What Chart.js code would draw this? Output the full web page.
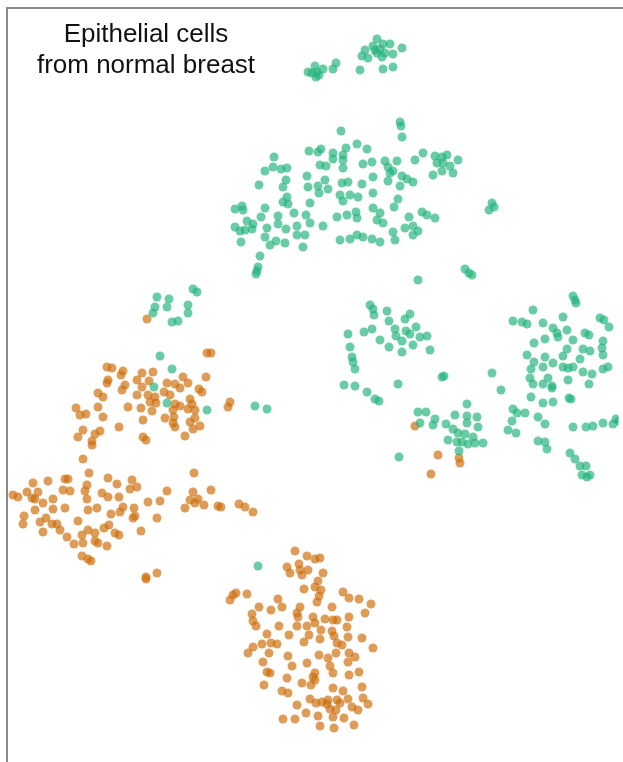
<!DOCTYPE html>
<html>
<head>
<meta charset="utf-8">
<script src="https://cdn.jsdelivr.net/npm/chart.js@4.4.1/dist/chart.umd.min.js"></script>
<style>
  html, body { margin: 0; padding: 0; background: #fff; }
  #wrap { width: 623px; height: 762px; }
</style>
</head>
<body>
<div id="wrap"><canvas id="tsne" width="623" height="762"></canvas></div>
<script>
// t-SNE style map, coordinates (x right, y down)
const titleLines = ['Epithelial cells', 'from normal breast'];

const greenPoints = [
  [377,39],[373,46],[383,44],[390,44],[402,48],[365,50],[375,50],[380,49],[385,53],[393,54],[362,56],[368,58],[382,57],[377,53],[360,70],[383,69],[393,67],
  [308,72],[315,66],[317,72],[316,77],[323,69],[333,69],[336,63],[319,75],[312,73],
  [400,122],[401,126],[402,137],[341,131],
  [357,144],[367,149],[346,148],[309,151],[318,152],[321,149],[333,153],[343,155],[274,157],[333,159],[343,160],[385,161],[397,161],[415,160],[320,165],[326,166],[363,164],[372,162],[273,167],[281,169],[287,168],[265,171],[343,168],[388,167],[393,171],[390,173],[307,176],[373,177],[402,176],[407,179],[286,180],[325,180],[388,181],[413,182],[259,185],[283,187],[308,187],[318,186],[328,189],[342,183],[348,182],[362,184],[400,186],[319,193],[340,195],[350,195],[358,197],[373,193],[287,197],[283,202],[398,199],[310,203],[288,204],[343,201],[235,209],[242,206],[243,210],[265,208],[373,208],[394,207],[294,213],[278,216],[306,215],[337,217],[347,215],[356,212],[380,213],[261,217],[235,227],[247,221],[245,230],[252,229],[240,231],[253,224],[267,228],[278,224],[286,229],[297,226],[310,223],[323,226],[357,218],[377,220],[383,223],[409,217],[405,228],[413,226],[393,232],[241,242],[265,237],[270,245],[276,241],[285,243],[297,235],[305,235],[303,247],[340,240],[350,239],[357,235],[363,237],[372,239],[380,242],[395,240],[413,235],[260,256],
  [423,153],[435,156],[442,157],[447,155],[437,163],[443,163],[450,166],[458,160],[442,171],[433,175],[453,173],[492,203],[489,210],[494,207],[422,212],[427,215],[435,218],[418,231],
  [157,297],[169,299],[155,307],[167,307],[153,313],[172,322],[178,321],[188,305],[188,313],[193,289],[197,292],[160,356],[172,369],[154,387],[167,403],[207,410],
  [258,267],[257,271],[256,274],[418,280],[370,305],[373,309],[374,315],[387,311],[389,321],[405,319],[410,314],[348,334],[364,332],[372,329],[395,329],[396,336],[406,331],[410,334],[416,327],[380,340],[389,347],[402,352],[402,341],[413,345],[350,347],[352,357],[353,362],[355,369],[344,385],[355,386],[367,392],[375,399],[379,401],[398,384],[418,412],[420,423],[255,406],[267,409],[399,457],
  [465,269],[469,273],[472,275],[573,296],[575,300],[576,303],[533,310],[513,321],[522,322],[527,324],[543,323],[563,317],[600,318],[604,320],[609,327],[553,328],[557,333],[567,330],[585,333],[589,335],[534,343],[545,339],[558,337],[573,340],[603,341],[567,349],[583,349],[590,351],[602,348],[527,355],[545,357],[563,356],[580,359],[603,355],[534,362],[553,363],[531,369],[543,367],[563,367],[568,368],[573,367],[583,372],[592,374],[603,369],[608,367],[530,378],[548,378],[568,380],[533,384],[543,384],[552,386],[589,384],[552,388],[442,377],[444,376],[420,337],[427,336],[430,350],[492,373],[501,390],[531,397],[543,403],[553,402],[569,398],[571,399],[426,412],[467,404],[455,415],[467,416],[477,417],[435,419],[433,425],[446,424],[453,429],[467,423],[478,427],[458,433],[465,434],[473,437],[448,440],[457,442],[462,442],[468,444],[475,443],[483,443],[459,451],[513,409],[517,413],[525,413],[512,421],[508,430],[516,433],[538,417],[545,424],[573,427],[586,427],[593,426],[603,423],[613,424],[616,419],[619,421],[538,441],[545,442],[547,449],[570,453],[575,459],[580,466],[586,466],[582,475],[590,475],[587,477],
  [258,566]
];

const orangePoints = [
  [147,319],[207,353],[211,353],[107,367],[112,368],[123,371],[121,375],[142,373],[153,372],[108,380],[107,383],[137,380],[149,381],[183,377],[206,377],[125,385],[122,390],[142,387],[137,395],[167,383],[175,384],[180,388],[188,383],[199,389],[202,392],[98,393],[103,397],[164,392],[170,395],[148,395],[155,397],[150,402],[156,403],[190,399],[76,408],[98,407],[128,407],[141,408],[152,411],[175,404],[180,406],[173,410],[192,404],[188,409],[195,410],[80,415],[86,414],[103,417],[165,418],[174,417],[195,418],[143,420],[190,422],[173,423],[200,426],[119,427],[175,427],[193,429],[83,430],[100,431],[95,434],[78,437],[143,437],[146,440],[185,436],[92,441],[92,445],[83,459],[89,473],[194,473],
  [33,483],[48,481],[65,479],[68,479],[87,485],[108,478],[117,484],[132,480],[13,495],[18,497],[27,492],[32,498],[38,492],[35,499],[43,503],[53,499],[63,490],[70,491],[85,491],[87,499],[102,493],[108,497],[119,497],[130,489],[137,487],[148,502],[160,501],[167,491],[193,492],[190,500],[198,499],[195,503],[211,490],
  [230,402],[228,407],[204,505],
  [415,426],[438,455],[459,458],[460,463],[431,474],
  [35,510],[53,509],[65,508],[24,516],[23,524],[40,522],[46,518],[52,524],[57,524],[60,530],[43,532],[78,521],[88,510],[97,508],[111,514],[120,512],[123,507],[134,508],[135,516],[133,518],[157,518],[141,531],[185,508],[67,537],[74,544],[82,535],[83,543],[88,530],[95,533],[95,541],[98,543],[104,528],[109,525],[115,533],[119,535],[107,546],[82,556],[88,559],[91,561],[146,577],[146,579],[157,573],
  [218,506],[221,507],[239,504],[245,507],[253,512],
  [295,551],[307,556],[315,559],[320,558],[287,567],[290,573],[299,564],[300,570],[302,575],[308,570],[323,573],[318,581],[315,587],[321,590],[304,589],[343,592],[236,593],[233,595],[230,600],[247,594],[319,596],[349,598],[359,599],[317,602],[278,599],[371,604],[332,607],[300,607],[282,607],[259,607],[271,610],[365,613],[252,614],[297,613],[298,617],[313,617],[325,619],[333,620],[337,620],[349,617],[253,621],[256,626],[279,626],[297,626],[307,626],[315,623],[347,627],[321,630],[332,631],[267,634],[289,635],[309,635],[334,636],[348,637],[362,638],[320,639],[262,644],[271,643],[277,644],[304,642],[337,643],[342,645],[373,648],[253,647],[248,653],[269,653],[288,656],[319,655],[336,653],[349,653],[355,657],[263,662],[292,666],[307,663],[328,658],[348,662],[330,666],[267,672],[270,673],[333,673],[349,675],[359,672],[315,673],[313,677],[287,678],[264,685],[302,683],[311,685],[315,680],[333,688],[343,691],[362,687],[282,691],[288,693],[310,699],[328,700],[337,700],[348,699],[363,698],[316,703],[322,702],[368,704],[297,705],[327,704],[340,703],[352,707],[358,710],[330,709],[336,710],[306,713],[333,717],[344,718],[318,716],[283,719],[295,719],[320,726],[334,728],[354,725]
];

const toXY = pts => pts.map(p => ({ x: p[0], y: p[1] }));

// Chart.js pads the plot area by the point radius, so the scales start at R
// to keep one data unit = one pixel from the canvas corner
const R = 4.5;

// left + top frame lines, title text in the corner
const framePlugin = {
  id: 'frame',
  beforeDatasetsDraw(chart) {
    const ctx = chart.ctx;
    const sx = chart.scales.x, sy = chart.scales.y;
    const left = sx.getPixelForValue(7), top = sy.getPixelForValue(8);
    ctx.save();
    ctx.strokeStyle = '#8a8a8a';
    ctx.lineWidth = 2;
    ctx.beginPath();
    ctx.moveTo(left, 762);
    ctx.lineTo(left, top);
    ctx.lineTo(623, top);
    ctx.stroke();
    ctx.restore();
  },
  afterDraw(chart) {
    const ctx = chart.ctx;
    ctx.save();
    ctx.fillStyle = '#111';
    ctx.font = '26px "Liberation Sans", Arial, sans-serif';
    ctx.textAlign = 'center';
    ctx.textBaseline = 'alphabetic';
    titleLines.forEach((t, i) => ctx.fillText(t, 146, 42 + i * 30.5));
    ctx.restore();
  }
};

new Chart(document.getElementById('tsne'), {
  type: 'scatter',
  data: {
    datasets: [
      {
        label: 'green',
        data: toXY(greenPoints),
        backgroundColor: 'rgba(35, 180, 125, 0.68)',
        borderWidth: 0,
        pointRadius: R,
        pointHoverRadius: R
      },
      {
        label: 'orange',
        data: toXY(orangePoints),
        backgroundColor: 'rgba(205, 110, 10, 0.68)',
        borderWidth: 0,
        pointRadius: R,
        pointHoverRadius: R
      }
    ]
  },
  options: {
    responsive: false,
    animation: false,
    layout: { padding: 0 },
    plugins: { legend: { display: false }, tooltip: { enabled: false } },
    scales: {
      x: { type: 'linear', min: R, max: 623 - R, display: false },
      y: { type: 'linear', min: R, max: 762 - R, reverse: true, display: false }
    }
  },
  plugins: [framePlugin]
});
</script>
</body>
</html>
